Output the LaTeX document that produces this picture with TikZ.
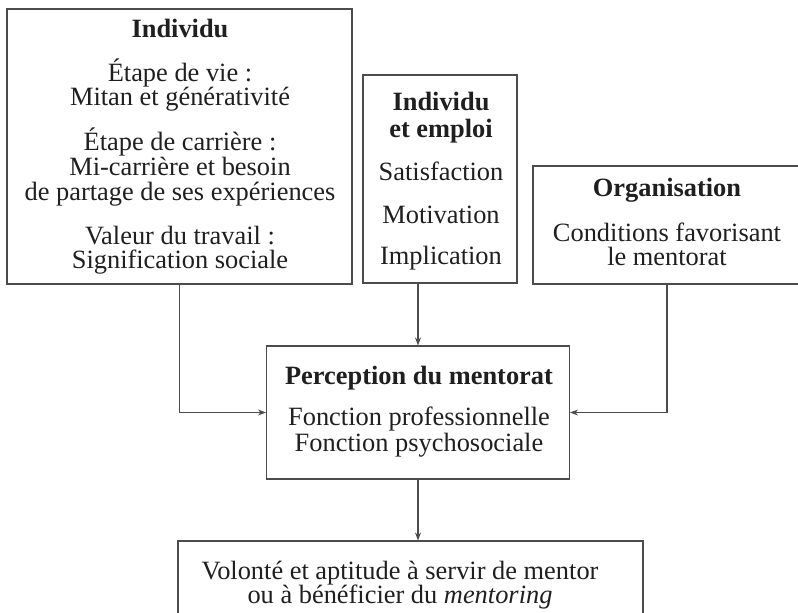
\documentclass[tikz,border=0pt]{standalone}
\usepackage{fontspec}
\setmainfont{Liberation Serif}
\usetikzlibrary{arrows.meta}
\begin{document}
\begin{tikzpicture}[x=1pt,y=-1pt,
  box/.style={draw=black!70, line width=1.1pt, inner sep=0pt, rectangle},
  txt/.style={inner sep=0pt, anchor=base, font=\fontsize{26.4}{26}\selectfont, text=black!88},
  ttl/.style={txt, font=\fontsize{26.4}{26}\selectfont\bfseries},
  conn/.style={draw=black!70, line width=1.1pt, -{Stealth[length=8pt,width=6pt]}}]
\useasboundingbox (0,0) rectangle (798,613);
\clip (0,0) rectangle (798,613);
% boxes
\node[box, minimum width=345pt, minimum height=275pt] (ind) at (179.5,146.5) {};
\node[box, minimum width=154pt, minimum height=208pt] (emp) at (440,179) {};
\node[box, minimum width=268pt, minimum height=118pt] (org) at (667,225) {};
\node[box, minimum width=303pt, minimum height=133pt] (perc) at (418,412.5) {};
\node[box, minimum width=465pt, minimum height=110pt] (vol) at (410.5,596) {};
% left box text
\node[ttl] (t1) at (180,37) {Individu};
\node[txt] (t2) at (180,81) {Étape de vie :};
\node[txt] (t3) at (180,105) {Mitan et générativité};
\node[txt] (t4) at (180,150) {Étape de carrière :};
\node[txt] (t5) at (180,175) {Mi-carrière et besoin};
\node[txt] (t6) at (180,200) {de partage de ses expériences};
\node[txt] (t7) at (180,244) {Valeur du travail :};
\node[txt] (t8) at (180,268) {Signification sociale};
% middle box text
\node[ttl] (m1) at (441,110) {Individu};
\node[ttl] (m2) at (441,137) {et emploi};
\node[txt] (m3) at (441,180) {Satisfaction};
\node[txt] (m4) at (441,223) {Motivation};
\node[txt] (m5) at (441,264) {Implication};
% right box text
\node[ttl] (o1) at (667,196) {Organisation};
\node[txt] (o2) at (667,241) {Conditions favorisant};
\node[txt] (o3) at (667,265) {le mentorat};
% perception text
\node[ttl] (p1) at (419,384) {Perception du mentorat};
\node[txt] (p2) at (419,425) {Fonction professionnelle};
\node[txt] (p3) at (419,451) {Fonction psychosociale};
% bottom text
\node[txt] (v1) at (400,579) {Volonté et aptitude à servir de mentor};
\node[txt] (v2) at (400,603) {ou à bénéficier du \textit{mentoring}};
% connectors
\draw[conn] (ind.south) |- (perc.west);
\draw[conn] (org.south) |- (perc.east);
\draw[conn] (emp.south -| perc.north) -- (perc.north);
\draw[conn] (perc.south) -- (perc.south |- vol.north);
\end{tikzpicture}
\end{document}
